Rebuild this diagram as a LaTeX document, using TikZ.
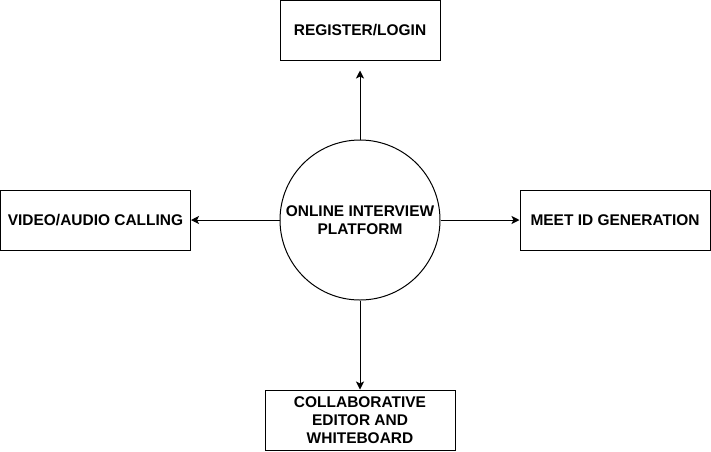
\documentclass[tikz,border=0pt]{standalone}
\usepackage{fontspec}
\setmainfont{Liberation Sans}
\usetikzlibrary{arrows.meta}
\begin{document}
\begin{tikzpicture}[x=0.75pt,y=-0.75pt,
  box/.style={draw,line width=0.75pt,inner sep=0pt,align=center,font=\bfseries\fontsize{11.6}{13.5}\selectfont},
  conn/.style={line width=0.75pt,-{Stealth[length=6pt,width=6pt,inset=1.5pt]}}]
\useasboundingbox (0,0) rectangle (711,451);
\node[box,circle,minimum size=120pt] (c) at (360,220) {ONLINE INTERVIEW\\PLATFORM};
\node[box,minimum width=120pt,minimum height=45pt] (top) at (360,30) {REGISTER/LOGIN};
\node[box,minimum width=142.5pt,minimum height=45pt] (left) at (95.5,220) {VIDEO/AUDIO CALLING};
\node[box,minimum width=142.5pt,minimum height=45pt] (right) at (615,220) {MEET ID GENERATION};
\node[box,minimum width=142.5pt,minimum height=45pt] (bot) at (360,420) {COLLABORATIVE\\EDITOR AND\\WHITEBOARD};
\draw[conn,shorten >=7.5pt] (c) -- (top);
\draw[conn] (c) -- (left);
\draw[conn] (c) -- (right);
\draw[conn] (c) -- (bot);
\end{tikzpicture}
\end{document}
